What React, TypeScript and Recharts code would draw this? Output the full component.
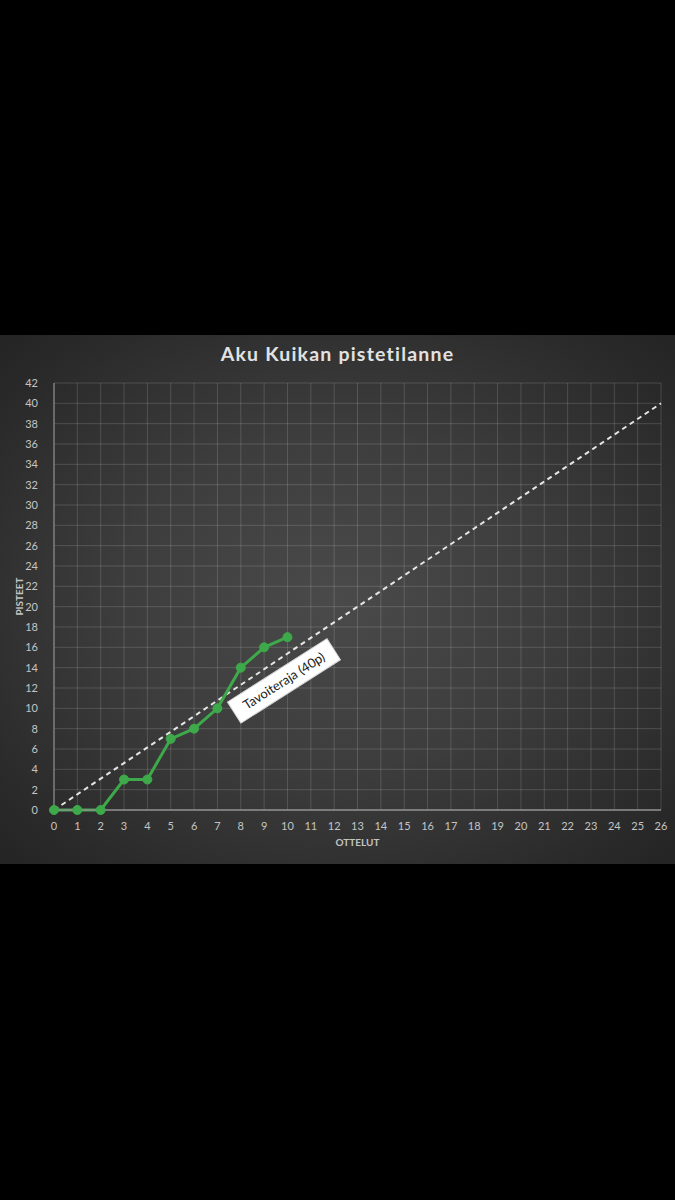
import React from "react";
import {
  LineChart,
  Line,
  XAxis,
  YAxis,
  CartesianGrid,
  ReferenceLine,
  ReferenceDot,
} from "recharts";

const matches = [0, 1, 2, 3, 4, 5, 6, 7, 8, 9, 10];
const points = [0, 0, 0, 3, 3, 7, 8, 10, 14, 16, 17];
const xTicks = Array.from({ length: 27 }, (_, i) => i);
const yTicks = [0, 2, 4, 6, 8, 10, 12, 14, 16, 18, 20, 22, 24, 26, 28, 30, 32, 34, 36, 38, 40, 42];
const targetStart = { x: 0, y: 0 };
const targetEnd = { x: 26, y: 40 };
const targetLabel = "Tavoiteraja (40p)";
const labelAt = { x: 9.85, y: 12.7 };

const data = matches.map((m, i) => ({ x: m, p: points[i] }));

const FONT = "Lato, 'Open Sans', sans-serif";
const GREEN = "#3ea94a";

const LabelShape = (props: any) => {
  const { cx, cy } = props;
  const w = 118;
  const h = 25;
  return (
    <g transform={`translate(${cx},${cy}) rotate(-32.5)`}>
      <rect x={-w / 2} y={-h / 2} width={w} height={h} fill="#ffffff" stroke="#d8d8d8" strokeWidth={1} />
      <text
        x={0}
        y={0}
        dy="0.35em"
        textAnchor="middle"
        fontFamily={FONT}
        fontSize={13}
        fill="#1a1a1a"
      >
        {targetLabel}
      </text>
    </g>
  );
};

const YLabel = (props: any) => {
  const { viewBox } = props;
  const cx = 19;
  const cy = viewBox.y + viewBox.height / 2;
  return (
    <text
      x={cx}
      y={cy}
      transform={`rotate(-90, ${cx}, ${cy})`}
      textAnchor="middle"
      dy="0.35em"
      fontFamily={FONT}
      fontWeight={700}
      fontSize={10}
      fill="#c4c4c4"
    >
      PISTEET
    </text>
  );
};

export default function App() {
  return (
    <div
      style={{
        position: "fixed",
        left: 0,
        top: 0,
        width: 675,
        height: 1200,
        background: "#000",
      }}
    >
      <div
        style={{
          position: "absolute",
          left: 0,
          top: 335,
          width: 675,
          height: 529,
          background:
            "radial-gradient(ellipse at 50% 50%, #4a4a4a 0%, #3d3d3d 45%, #2a2a2a 85%, #242424 100%)",
        }}
      >
        <div
          style={{
            position: "absolute",
            left: 0,
            top: 7,
            width: 675,
            textAlign: "center",
            fontFamily: FONT,
            fontWeight: 700,
            fontSize: 19.5,
            color: "#e2e2e2",
            letterSpacing: 1.2,
          }}
        >
          Aku Kuikan pistetilanne
        </div>
        <LineChart
          width={675}
          height={529}
          data={data}
          margin={{ top: 48, right: 14, bottom: 18, left: 0 }}
        >
          <CartesianGrid stroke="rgba(255,255,255,0.15)" strokeWidth={1} />
          <XAxis
            dataKey="x"
            type="number"
            domain={[0, 26]}
            ticks={xTicks}
            interval={0}
            tickLine={false}
            axisLine={{ stroke: "#8f8f8f", strokeWidth: 1.5 }}
            tick={{ fill: "#c4c4c4", fontSize: 11, fontFamily: FONT }}
            tickMargin={6}
            height={36}
            label={{
              value: "OTTELUT",
              position: "insideBottom",
              offset: 0,
              fill: "#c4c4c4",
              fontSize: 10,
              fontWeight: 700,
              fontFamily: FONT,
            }}
          />
          <YAxis
            type="number"
            domain={[0, 42]}
            ticks={yTicks}
            interval={0}
            width={54}
            tickLine={false}
            axisLine={{ stroke: "#7a7a7a", strokeWidth: 1.5 }}
            tick={{ fill: "#c4c4c4", fontSize: 11, fontFamily: FONT }}
            tickMargin={10}
            label={<YLabel />}
          />
          <ReferenceLine
            segment={[targetStart, targetEnd]}
            stroke="#e6e6e6"
            strokeWidth={2}
            strokeDasharray="5 4"
            ifOverflow="visible"
          />
          <Line
            dataKey="p"
            stroke={GREEN}
            strokeWidth={3}
            dot={{ r: 4.5, fill: GREEN, stroke: GREEN, strokeWidth: 1 }}
            isAnimationActive={false}
          />
          <ReferenceDot
            x={labelAt.x}
            y={labelAt.y}
            r={0}
            ifOverflow="visible"
            shape={<LabelShape />}
          />
        </LineChart>
      </div>
    </div>
  );
}
